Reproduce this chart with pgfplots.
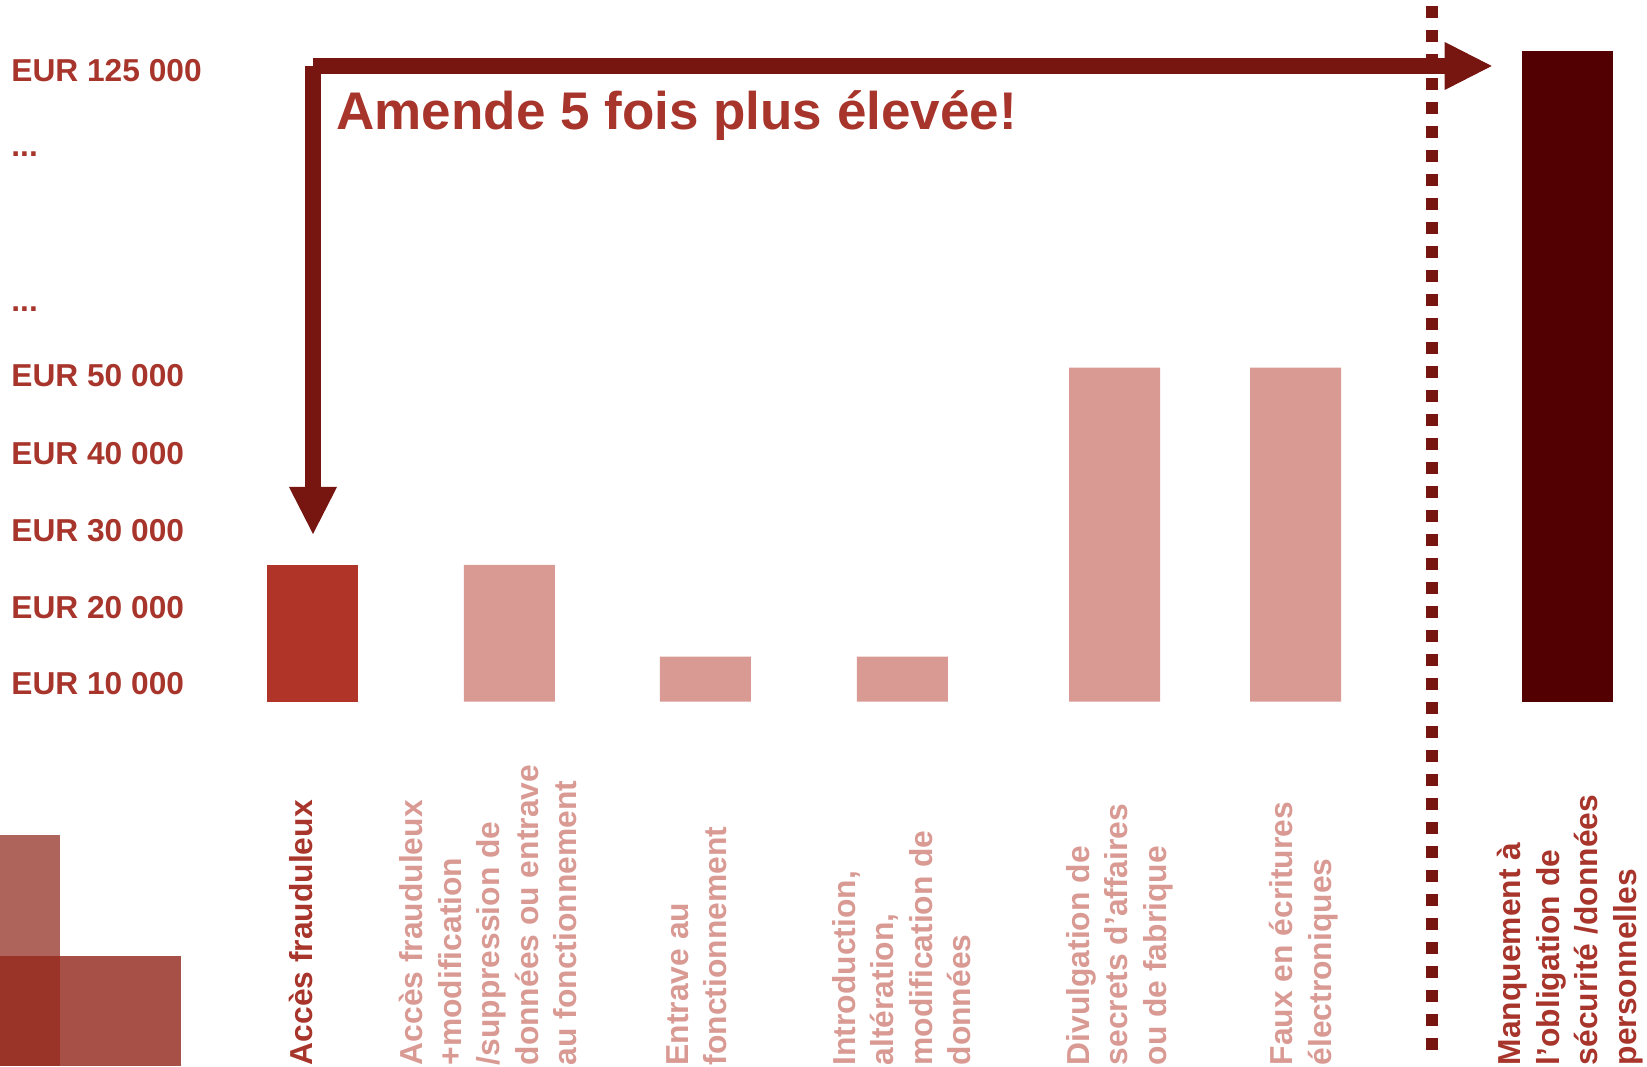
\documentclass[border=0pt]{standalone}
\usepackage{fontspec}
\setmainfont{Liberation Sans}
\usepackage{pgfplots}
\usepackage{pgfplotstable}
\pgfplotsset{compat=1.18}
\usetikzlibrary{arrows.meta}
\definecolor{txt}{HTML}{A8352B}
\definecolor{barone}{HTML}{B03428}
\definecolor{pink}{HTML}{D99A94}
\definecolor{darkbar}{HTML}{520002}
\definecolor{arrowc}{HTML}{771611}
\definecolor{sqa}{HTML}{AE635B}
\definecolor{sqb}{HTML}{9A3429}
\definecolor{sqc}{HTML}{A65048}
% x = bar centre (px), h = drawn bar height above the baseline (px)
\pgfplotstableread{
x h
312.5 136.7
}\tabfirst
\pgfplotstableread{
x h
509.4 136.7
705.4 45.2
902.3 45.2
1114.5 334
1295.7 334
}\tabothers
\pgfplotstableread{
x h
1567.5 650.7
}\tablast
\begin{document}
\begin{tikzpicture}
\useasboundingbox (0,0) rectangle (823.5pt,533pt);
\begin{axis}[at={(0,0)}, anchor=south west, width=823.5pt, height=533pt,
  scale only axis, xmin=0, xmax=1647, ymin=-364.3, ymax=701.7,
  hide axis, clip=false]
\addplot[ybar, bar width=91, bar shift=0pt, fill=barone, draw=none] table[x=x,y=h] {\tabfirst};
\addplot[ybar, bar width=91, bar shift=0pt, fill=pink, draw=none] table[x=x,y=h] {\tabothers};
\addplot[ybar, bar width=91, bar shift=0pt, fill=darkbar, draw=none] table[x=x,y=h] {\tablast};
% y labels
\begin{scope}[every node/.style={anchor=base west, inner sep=0pt, text=txt, font=\fontsize{15.85pt}{19pt}\selectfont\bfseries}]
\node at (axis cs:11,620.2) {EUR 125 000};
\node at (axis cs:11,544.7) {...};
\node at (axis cs:11,389.7) {...};
\node at (axis cs:11,315.2) {EUR 50 000};
\node at (axis cs:11,237.2) {EUR 40 000};
\node at (axis cs:11,160.2) {EUR 30 000};
\node at (axis cs:11,83.2) {EUR 20 000};
\node at (axis cs:11,7.2) {EUR 10 000};
\end{scope}
% title
\node[anchor=base west, inner sep=0pt, text=txt, font=\fontsize{26.5pt}{30pt}\selectfont\bfseries] at (axis cs:336,571.7) {Amende 5 fois plus élevée!};
% arrows
\draw[arrowc, line width=8pt, -{Triangle[width=24pt,length=23.5pt,line width=0pt]}] (axis cs:313,635.7) -- (axis cs:313,167.7);
\draw[arrowc, line width=8pt, -{Triangle[width=24pt,length=23.5pt,line width=0pt]}] (axis cs:313,635.7) -- (axis cs:1491.7,635.7);
% dotted separator
\draw[arrowc, line width=6pt, dash pattern=on 6pt off 6pt] (axis cs:1432,695.7) -- (axis cs:1432,-348.3);
% decorative squares
\fill[sqa] (axis cs:0,-133.3) rectangle (axis cs:60,-254.3);
\fill[sqb] (axis cs:0,-254.3) rectangle (axis cs:60,-364.3);
\fill[sqc] (axis cs:60,-254.3) rectangle (axis cs:181,-364.3);
% category labels
\begin{scope}[every node/.style={rotate=90, anchor=north west, align=left, inner sep=0pt, font=\fontsize{15.9pt}{19.25pt}\selectfont\bfseries}]
\node[text=txt] at (axis cs:289,-364) {Accès frauduleux};
\node[text=pink] at (axis cs:399,-364) {Accès frauduleux\\+modification\\/suppression de\\données ou entrave\\au fonctionnement};
\node[text=pink] at (axis cs:666,-364) {Entrave au\\fonctionnement};
\node[text=pink] at (axis cs:832,-364) {Introduction,\\altération,\\modification de\\données};
\node[text=pink] at (axis cs:1066,-364) {Divulgation de\\secrets d’affaires\\ou de fabrique};
\node[text=pink] at (axis cs:1269,-364) {Faux en écritures\\électroniques};
\node[text=txt] at (axis cs:1497,-364) {Manquement à\\l’obligation de\\sécurité /données\\personnelles};
\end{scope}
\end{axis}
\end{tikzpicture}
\end{document}
